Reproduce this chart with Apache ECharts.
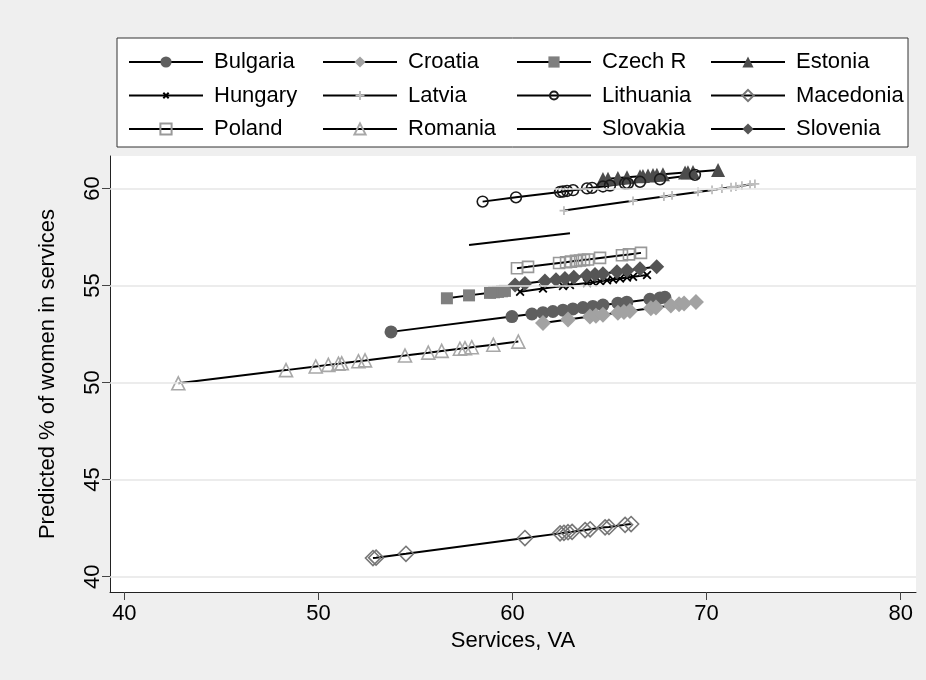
<!DOCTYPE html>
<html>
<head>
<meta charset="utf-8">
<script src="https://cdn.jsdelivr.net/npm/echarts@6/dist/echarts.min.js"></script>
<style>
  html, body { margin: 0; padding: 0; background: #efefef; }
  #chart { width: 926px; height: 680px; }
</style>
</head>
<body>
<div id="chart"></div>
<script>
// Predicted share of women in services vs. services value added, by country

const countries = ['Bulgaria', 'Croatia', 'Czech R', 'Estonia', 'Hungary', 'Latvia',
                   'Lithuania', 'Macedonia', 'Poland', 'Romania', 'Slovakia', 'Slovenia'];

const bulgariaX = [53.74, 59.97, 61.00, 61.57, 62.08, 62.60, 63.11, 63.63, 64.14, 64.66, 65.43, 65.89, 67.08, 67.60, 67.85];
const bulgariaY = [52.61, 53.40, 53.53, 53.60, 53.66, 53.73, 53.79, 53.86, 53.92, 53.99, 54.09, 54.14, 54.29, 54.36, 54.39];

const croatiaX = [61.57, 62.86, 63.99, 64.30, 64.66, 65.43, 65.74, 66.05, 67.13, 67.39, 68.16, 68.58, 68.84, 69.45];
const croatiaY = [53.07, 53.25, 53.40, 53.44, 53.49, 53.60, 53.64, 53.68, 53.83, 53.87, 53.97, 54.03, 54.07, 54.15];

const czechX = [56.62, 57.76, 58.84, 59.05, 59.25, 59.46, 59.61];
const czechY = [54.34, 54.49, 54.62, 54.65, 54.67, 54.70, 54.72];

const estoniaX = [64.66, 64.92, 65.43, 65.90, 66.57, 66.72, 66.98, 67.24, 67.44, 67.75, 68.89, 69.04, 69.30, 70.59];
const estoniaY = [60.48, 60.50, 60.54, 60.58, 60.63, 60.64, 60.66, 60.69, 60.70, 60.73, 60.82, 60.83, 60.85, 60.95];

const hungaryX = [60.39, 61.57, 62.60, 62.96, 63.84, 64.14, 64.51, 64.87, 65.18, 65.54, 65.90, 66.21, 66.93];
const hungaryY = [54.68, 54.84, 54.97, 55.02, 55.13, 55.17, 55.22, 55.27, 55.31, 55.36, 55.41, 55.45, 55.54];

const latviaX = [62.65, 66.21, 67.80, 68.22, 69.56, 70.28, 70.79, 71.26, 71.51, 71.82, 72.24, 72.49];
const latviaY = [58.86, 59.36, 59.58, 59.64, 59.82, 59.92, 59.99, 60.06, 60.09, 60.14, 60.20, 60.23];

const lithuaniaX = [58.46, 60.18, 62.45, 62.60, 62.81, 63.12, 63.84, 64.10, 64.66, 65.02, 65.80, 65.95, 66.57, 67.60, 69.40];
const lithuaniaY = [59.32, 59.54, 59.82, 59.84, 59.87, 59.91, 60.00, 60.03, 60.10, 60.15, 60.25, 60.26, 60.34, 60.47, 60.70];

const macedoniaX = [52.81, 52.97, 54.51, 60.64, 62.45, 62.65, 62.86, 63.07, 63.74, 64.00, 64.77, 64.97, 65.80, 66.11];
const macedoniaY = [40.96, 40.98, 41.18, 41.99, 42.23, 42.26, 42.29, 42.31, 42.40, 42.44, 42.54, 42.56, 42.67, 42.71];

const polandX = [60.23, 60.80, 62.40, 62.76, 63.01, 63.27, 63.48, 63.68, 63.89, 64.51, 65.64, 66.00, 66.62];
const polandY = [55.89, 55.96, 56.16, 56.20, 56.23, 56.27, 56.29, 56.32, 56.34, 56.42, 56.56, 56.60, 56.68];

const romaniaX = [42.78, 48.33, 49.86, 50.51, 51.03, 51.20, 52.06, 52.40, 54.46, 55.66, 56.35, 57.29, 57.55, 57.90, 59.01, 60.30];
const romaniaY = [49.96, 50.64, 50.83, 50.91, 50.97, 50.99, 51.10, 51.14, 51.39, 51.54, 51.63, 51.74, 51.77, 51.82, 51.95, 52.11];

const slovakiaX = [57.76, 62.96];
const slovakiaY = [57.09, 57.69];

const sloveniaX = [60.13, 60.64, 61.67, 62.24, 62.70, 63.16, 63.83, 64.25, 64.66, 65.38, 65.90, 66.57, 67.43];
const sloveniaY = [55.03, 55.10, 55.23, 55.30, 55.36, 55.42, 55.51, 55.56, 55.61, 55.71, 55.77, 55.86, 55.97];

const xTicks = [40, 50, 60, 70, 80];
const yTicks = [40, 45, 50, 55, 60];

// Marker look for each country (the padded paths keep the glyph small inside its box)
const CROSS = 'path://M0,0M2.6,2.6L7.4,7.4M7.4,2.6L2.6,7.4M10,10';
const PLUS = 'path://M0,0M5,1L5,9M1,5L9,5M10,10';
const RING = 'path://M0,0M8.6,5A3.6,3.6,0,1,1,1.4,5A3.6,3.6,0,1,1,8.6,5M10,10';
const markers = {
  'Bulgaria':  { symbol: 'circle',   size: 13, fill: '#5f5f5f' },
  'Croatia':   { symbol: 'diamond',  size: 16, fill: '#a2a2a2' },
  'Czech R':   { symbol: 'rect',     size: 12, fill: '#7f7f7f' },
  'Estonia':   { symbol: 'triangle', size: 14, fill: '#4c4c4c' },
  'Hungary':   { symbol: CROSS,      size: 16, stroke: '#000000', width: 1.8 },
  'Latvia':    { symbol: PLUS,       size: 11, stroke: '#bdbdbd', width: 1.8 },
  'Lithuania': { symbol: RING,       size: 15, stroke: '#1a1a1a', width: 1.6 },
  'Macedonia': { symbol: 'diamond',  size: 15, stroke: '#777777', width: 1.6 },
  'Poland':    { symbol: 'rect',     size: 11, stroke: '#999999', width: 1.6 },
  'Romania':   { symbol: 'triangle', size: 13, stroke: '#a8a8a8', width: 1.6 },
  'Slovakia':  { symbol: 'circle',   size: 0,  hidden: true },
  'Slovenia':  { symbol: 'diamond',  size: 15, fill: '#555555' }
};

const seriesData = {
  'Bulgaria': [bulgariaX, bulgariaY],
  'Croatia': [croatiaX, croatiaY],
  'Czech R': [czechX, czechY],
  'Estonia': [estoniaX, estoniaY],
  'Hungary': [hungaryX, hungaryY],
  'Latvia': [latviaX, latviaY],
  'Lithuania': [lithuaniaX, lithuaniaY],
  'Macedonia': [macedoniaX, macedoniaY],
  'Poland': [polandX, polandY],
  'Romania': [romaniaX, romaniaY],
  'Slovakia': [slovakiaX, slovakiaY],
  'Slovenia': [sloveniaX, sloveniaY]
};

const FONT = 'Liberation Sans, Arial, Helvetica, sans-serif';
const FS = 22;

function pairs(xs, ys) {
  return xs.map((x, i) => [x, ys[i]]);
}

const series = countries.map(name => {
  const m = markers[name];
  let itemStyle;
  if (m.hidden) {
    itemStyle = { color: 'rgba(0,0,0,0)', borderWidth: 0 };
  } else if (m.fill) {
    itemStyle = { color: m.fill, borderWidth: 0, opacity: 1 };
  } else {
    itemStyle = { color: 'rgba(0,0,0,0)', borderColor: m.stroke, borderWidth: m.width };
  }
  const [xs, ys] = seriesData[name];
  return {
    name: name,
    type: 'line',
    data: pairs(xs, ys),
    symbol: m.symbol,
    symbolSize: m.size,
    showSymbol: !m.hidden,
    showAllSymbol: true,
    animation: false,
    lineStyle: { color: '#000', width: 2 },
    itemStyle: itemStyle,
    emphasis: { disabled: true },
    z: 3
  };
});

// Horizontal grid lines placed through the y scale
series.push({
  name: 'grid',
  type: 'line',
  data: [],
  silent: true,
  animation: false,
  z: 1,
  markLine: {
    silent: true,
    symbol: ['none', 'none'],
    label: { show: false },
    lineStyle: { color: '#e6e6e6', width: 1.5, type: 'solid' },
    data: yTicks.map(v => ({ yAxis: v }))
  }
});

const columns = [
  ['Bulgaria', 'Hungary', 'Poland'],
  ['Croatia', 'Latvia', 'Romania'],
  ['Czech R', 'Lithuania', 'Slovakia'],
  ['Estonia', 'Macedonia', 'Slovenia']
];
const colLeft = [128, 322, 516, 710];

const legends = columns.map((col, i) => ({
  orient: 'vertical',
  left: colLeft[i],
  top: 51,
  data: col,
  itemWidth: 74,
  itemHeight: 14,
  itemGap: 11.5,
  padding: 0,
  selectedMode: false,
  z: 5,
  textStyle: { fontFamily: FONT, fontSize: FS, color: '#000', padding: [0, 0, 0, 6], lineHeight: 22 }
}));

const chart = echarts.init(document.getElementById('chart'), null, { renderer: 'canvas' });
chart.setOption({
  backgroundColor: '#efefef',
  animation: false,
  graphic: [{
    type: 'rect',
    z: 0,
    shape: { x: 117, y: 38, width: 791, height: 109 },
    style: { fill: '#ffffff', stroke: '#333333', lineWidth: 1 }
  }],
  legend: legends,
  grid: {
    left: 110, right: 10, top: 156, bottom: 88,
    show: true, backgroundColor: '#ffffff', borderWidth: 0
  },
  xAxis: {
    type: 'value',
    min: 39.26, max: 80.79,
    name: 'Services, VA',
    nameLocation: 'middle',
    nameGap: 36,
    nameTextStyle: { fontFamily: FONT, fontSize: FS, color: '#000' },
    axisLine: { show: true, onZero: false, lineStyle: { color: '#222', width: 1 } },
    axisTick: { show: true, length: 8, customValues: xTicks, lineStyle: { color: '#444' } },
    axisLabel: { customValues: xTicks, margin: 11, fontFamily: FONT, fontSize: FS, color: '#000' },
    splitLine: { show: false }
  },
  yAxis: {
    type: 'value',
    min: 39.21, max: 61.67,
    name: 'Predicted % of women in services',
    nameLocation: 'middle',
    nameGap: 51,
    nameTextStyle: { fontFamily: FONT, fontSize: FS, color: '#000' },
    axisLine: { show: true, onZero: false, lineStyle: { color: '#222', width: 1 } },
    axisTick: { show: true, length: 8, customValues: yTicks, lineStyle: { color: '#444' } },
    axisLabel: { customValues: yTicks, rotate: 90, margin: 6, fontFamily: FONT, fontSize: FS, color: '#000' },
    splitLine: { show: false }
  },
  series: series
});
</script>
</body>
</html>
